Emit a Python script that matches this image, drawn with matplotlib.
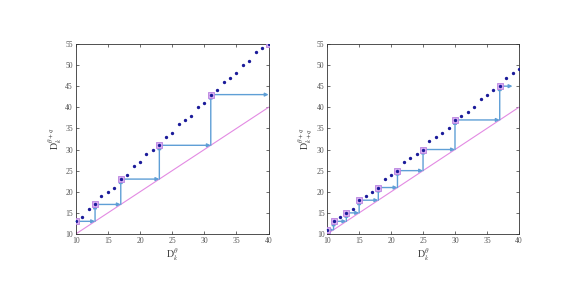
import numpy as np
import matplotlib.pyplot as plt

plt.rcParams['font.family'] = ['Liberation Serif', 'DejaVu Serif']
plt.rcParams['mathtext.fontset'] = 'stix'

x_vals = list(range(10, 41))

# left panel
left_dots = [13, 14, 16, 17, 19, 20, 21, 23, 24, 26, 27, 29, 30, 31, 33, 34,
             36, 37, 38, 40, 41, 43, 44, 46, 47, 48, 50, 51, 53, 54, 55]
left_stair_x = [10, 13, 13, 17, 17, 23, 23, 31, 31, 40]
left_stair_y = [13, 13, 17, 17, 23, 23, 31, 31, 43, 43]
left_sq_x = [10, 13, 17, 23, 31, 40]
left_sq_y = [13, 17, 23, 31, 43, 55]

# right panel
right_dots = [11, 13, 14, 15, 16, 18, 19, 20, 21, 23, 24, 25, 27, 28, 29, 30,
              32, 33, 34, 35, 37, 38, 39, 40, 42, 43, 44, 45, 47, 48, 49]
right_stair_x = [10, 11, 11, 13, 13, 15, 15, 18, 18, 21, 21, 25, 25, 30, 30, 37, 37, 39]
right_stair_y = [11, 11, 13, 13, 15, 15, 18, 18, 21, 21, 25, 25, 30, 30, 37, 37, 45, 45]
right_sq_x = [10, 11, 13, 15, 18, 21, 25, 30, 37]
right_sq_y = [11, 13, 15, 18, 21, 25, 30, 37, 45]

diag = [10, 40]

fig = plt.figure(figsize=(5.74, 2.88), dpi=100)
ax1 = fig.add_axes([0.132, 0.1875, 0.336, 0.66])
ax2 = fig.add_axes([0.570, 0.1875, 0.334, 0.66])


def draw(ax, dots, sx, sy, qx, qy, ylabel):
    ax.plot(diag, diag, color='#e38ae3', lw=0.8)
    for i in range(len(sx) - 1):
        ax.annotate('', xy=(sx[i + 1], sy[i + 1]), xytext=(sx[i], sy[i]),
                    arrowprops=dict(arrowstyle='-|>', color='#5f9fd6', lw=1.0,
                                    mutation_scale=5, shrinkA=0, shrinkB=0))
    ax.plot(qx, qy, 's', ms=4.5, mfc='#d7aef2', mec='#b983e0', mew=0.6,
            zorder=4)
    ax.plot(x_vals, dots, '.', color='#1b1b9a', ms=2.8, zorder=5)
    ax.set_xlim(10, 40)
    ax.set_ylim(10, 55)
    ax.set_xticks(range(10, 41, 5))
    ax.set_yticks(range(10, 56, 5))
    ax.tick_params(direction='in', top=True, right=True, labelsize=5.5,
                   length=2, width=0.5, pad=2, color='#333333',
                   labelcolor='#555555')
    for s in ax.spines.values():
        s.set_linewidth(0.6)
        s.set_color('#333333')
    ax.set_xlabel(r'$\mathrm{D}_k^{\theta}$', fontsize=7, labelpad=1,
                  color='#444444')
    ax.set_ylabel(ylabel, fontsize=7, labelpad=1, color='#444444')


draw(ax1, left_dots, left_stair_x, left_stair_y, left_sq_x, left_sq_y,
     r'$\mathrm{D}_k^{\theta+q}$')
draw(ax2, right_dots, right_stair_x, right_stair_y, right_sq_x, right_sq_y,
     r'$\mathrm{D}_{k+q}^{\theta+q}$')

fig.savefig('out.png', dpi=100)
